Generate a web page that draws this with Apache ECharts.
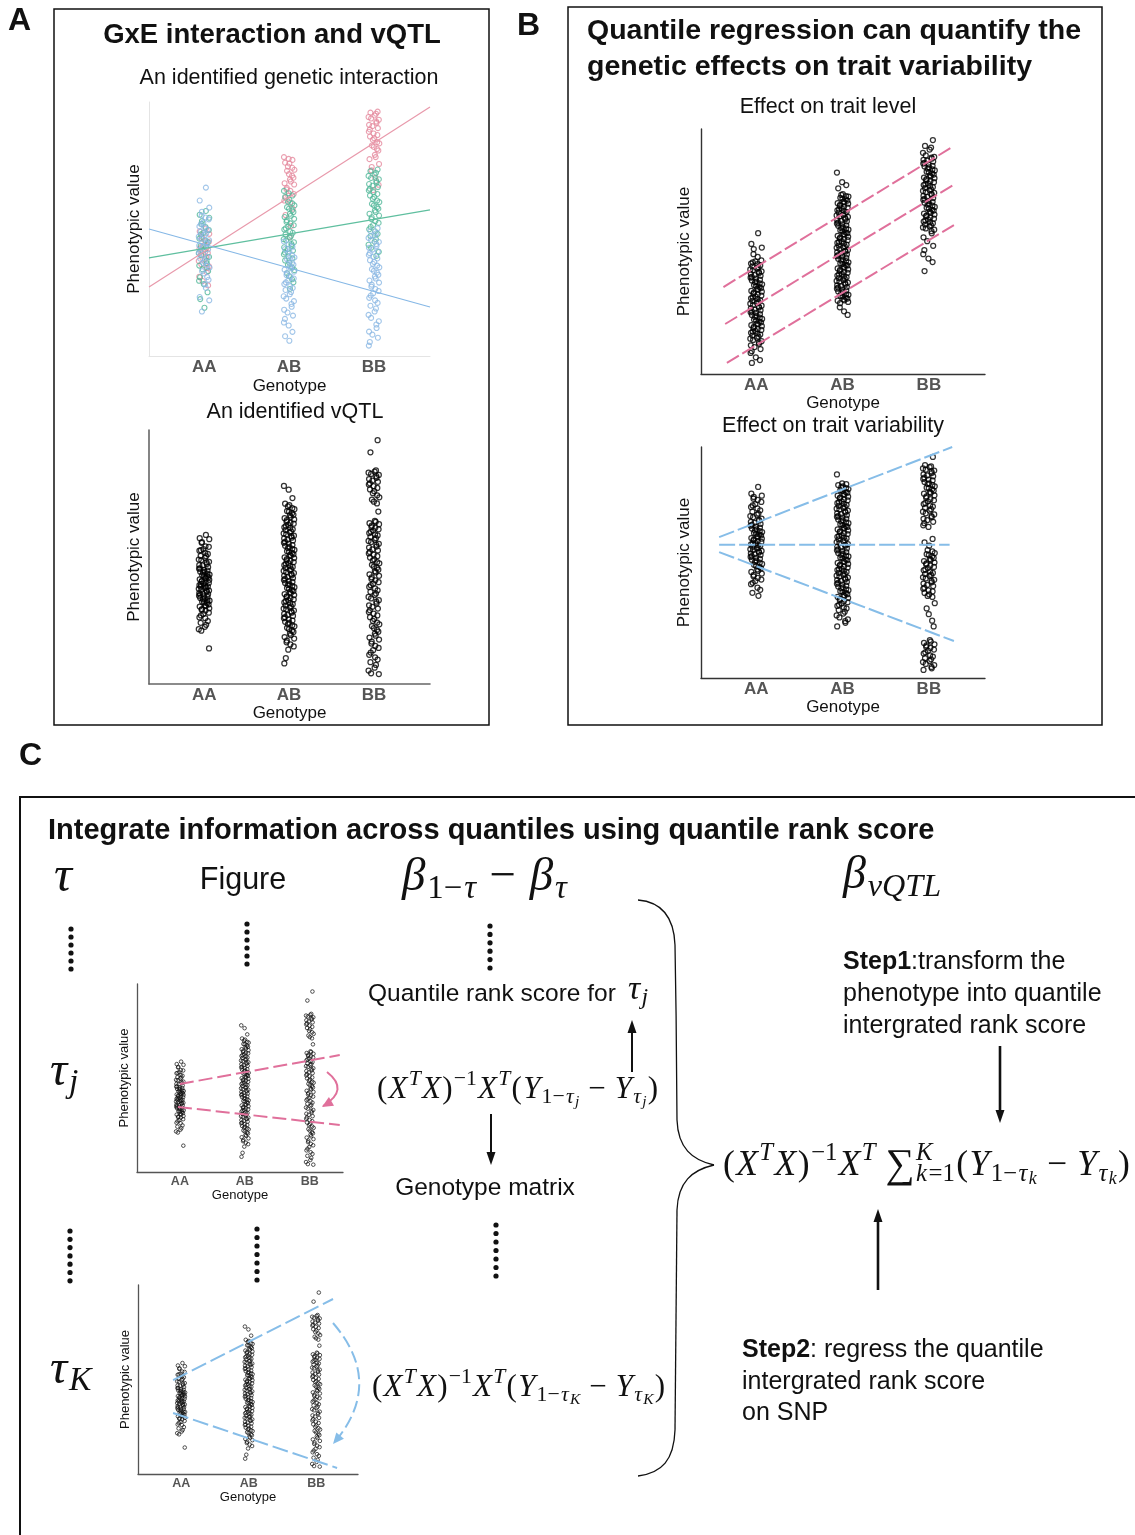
<!DOCTYPE html>
<html>
<head>
<meta charset="utf-8">
<script src="https://cdn.jsdelivr.net/npm/echarts@6/dist/echarts.min.js"></script>
<style>
html, body { margin: 0; padding: 0; background: #fff; }
#main { width: 1135px; height: 1535px; }
</style>
</head>
<body>
<div id="main"></div>
<script>
// genotype categories on every x axis
var genotypes = ["AA", "AB", "BB"];

// horizontal jitter, as a fraction of the column half width
var jitter = [0.31, -0.72, 0.88, -0.15, 0.54, -0.93, 0.12, -0.46, 0.97, -0.28, 0.66, -0.81, 0.05, 0.43, -0.59, 0.79, -0.07, -0.98, 0.24,
    -0.37, 0.71, -0.64, 0.92, -0.21, 0.47, -0.86, 0.16, 0.61, -0.52, 0.84, -0.02, -0.75, 0.36, -0.41, 0.58, -0.89, 0.20];

// A top: GxE interaction, three environments (pink / green / blue), y on a 0-100 scale
var gxePinkAA = [50.2, 49.1, 48.1, 46.9, 46.3, 45.2, 44.9, 43.5, 42.8, 42.2, 41.0, 40.6, 39.8, 38.7, 38.1, 37.4, 36.1, 35.3, 34.6, 33.0, 31.2, 29.5, 27.8];
var gxeGreenAA = [57.1, 55.6, 54.4, 53.1, 52.0, 50.8, 49.6, 48.5, 47.9, 46.2, 45.6, 44.8, 43.3, 42.7, 41.9, 40.5, 39.6, 39.0, 37.4, 36.5, 35.6, 34.1,
    33.4, 31.0, 29.6, 28.3, 25.1, 22.4, 19.0];
var gxeBlueAA = [66.3, 61.2, 58.4, 56.8, 55.3, 54.5, 53.8, 52.6, 51.9, 51.0, 50.4, 49.7, 48.9, 48.3, 47.6, 47.0, 46.2, 45.6, 44.9, 44.2, 43.5,
    42.9, 42.0, 41.4, 40.6, 39.9, 39.0, 38.3, 37.3, 36.6, 35.5, 34.8, 33.4, 32.5, 31.1, 30.0, 28.2, 26.8, 23.2, 21.9, 17.5];
var gxePinkAB = [78.3, 77.6, 77.2, 76.1, 75.8, 74.6, 74.1, 73.3, 72.9, 71.6, 71.0, 70.2, 69.5, 68.7, 68.0, 67.5, 66.2, 65.6, 65.0, 63.8, 63.1,
    62.5, 61.2, 60.4, 58.0, 55.5, 51.2, 46.8];
var gxeGreenAB = [65.0, 64.1, 63.2, 62.6, 61.5, 60.8, 60.1, 59.3, 58.6, 58.0, 57.3, 56.7, 56.0, 55.2, 54.7, 54.0, 53.4, 52.8, 52.2, 51.5, 51.0,
    50.3, 49.8, 49.0, 48.5, 47.9, 47.3, 46.6, 46.0, 45.5, 44.8, 44.1, 43.5, 42.8, 42.1, 41.5, 40.7, 40.0, 39.2, 38.4, 37.6, 36.7, 35.9, 34.8,
    33.8, 32.6, 31.5, 30.2, 29.0, 26.4];
var gxeBlueAB = [45.1, 44.0, 43.0, 42.1, 41.2, 40.4, 39.6, 38.8, 38.1, 37.5, 36.7, 36.0, 35.3, 34.6, 34.0, 33.2, 32.6, 31.9, 31.2, 30.5, 29.8,
    29.0, 28.3, 27.5, 26.8, 26.0, 25.2, 24.3, 23.5, 22.6, 21.6, 20.5, 19.4, 18.2, 17.1, 15.9, 14.6, 13.2, 12.0, 9.5, 7.8, 6.0];
var gxePinkBB = [96.2, 95.8, 95.4, 94.7, 94.1, 93.5, 93.0, 92.3, 91.8, 91.0, 90.5, 89.7, 89.2, 88.3, 87.6, 87.0, 86.4, 85.7, 85.1, 84.2, 83.7,
    82.9, 82.3, 81.5, 80.9, 79.2, 78.3, 77.5, 75.6, 74.4, 73.1, 70.2, 67.4, 65.3];
var gxeGreenBB = [73.4, 72.8, 72.1, 71.4, 70.9, 70.1, 69.6, 68.9, 68.3, 67.7, 67.0, 66.5, 65.8, 65.2, 64.5, 63.8, 63.2, 62.6, 61.9, 61.2, 60.6,
    59.9, 59.3, 58.6, 58.0, 57.3, 56.7, 56.0, 55.3, 54.6, 53.9, 53.1, 52.4, 51.6, 50.8, 49.9, 49.1, 48.1, 47.2, 46.0, 45.0, 43.8, 42.6, 41.0, 39.4];
var gxeBlueBB = [50.3, 49.2, 48.2, 47.4, 46.5, 45.7, 44.9, 44.1, 43.4, 42.6, 41.9, 41.2, 40.5, 39.8, 39.1, 38.4, 37.7, 37.0, 36.3, 35.6, 34.9,
    34.2, 33.5, 32.8, 32.0, 31.3, 30.5, 29.7, 28.9, 28.1, 27.3, 26.4, 25.6, 24.7, 23.8, 22.9, 21.9, 20.9, 19.8, 18.7, 17.5, 16.2, 15.0, 13.7,
    12.4, 11.0, 9.6, 8.4, 7.2, 5.5, 4.1];
var gxePinkFit = [[0.35, 27.2], [3.66, 98.0]];
var gxeGreenFit = [[0.35, 38.6], [3.66, 57.5]];
var gxeBlueFit = [[0.35, 50.0], [3.66, 19.3]];

// vQTL example (A bottom, reused in the two C panels)
var vqtlAA = [58.7, 57.4, 57.0, 55.9, 55.6, 54.2, 54.0, 53.1, 52.7, 52.5, 51.6, 51.2, 50.4, 50.3, 49.7, 49.0, 48.8, 48.1, 47.9, 47.2, 46.8,
    46.7, 46.0, 45.5, 45.4, 44.9, 44.6, 44.2, 44.1, 43.8, 43.4, 43.1, 42.9, 42.6, 42.3, 42.0, 41.7, 41.6, 41.2, 41.0, 40.6, 40.4, 40.1, 39.8,
    39.5, 39.3, 38.9, 38.7, 38.4, 38.3, 37.9, 37.7, 37.5, 37.0, 36.8, 36.6, 36.5, 35.8, 35.6, 35.4, 35.2, 34.7, 34.5, 34.3, 33.9, 33.6, 33.3,
    33.0, 32.8, 32.4, 32.1, 31.9, 31.3, 31.0, 30.7, 30.5, 29.8, 29.5, 29.2, 28.9, 28.1, 27.6, 27.0, 26.2, 25.9, 24.8, 24.1, 23.3, 22.5, 21.6,
    21.0, 14.0];
var vqtlAB = [78.0, 76.5, 73.2, 71.0, 70.4, 69.9, 69.2, 68.8, 68.1, 67.9, 67.2, 66.6, 66.4, 65.7, 65.3, 64.8, 64.5, 63.9, 63.4, 63.1, 62.6,
    62.2, 61.7, 61.5, 60.9, 60.6, 60.1, 59.7, 59.3, 58.9, 58.4, 58.2, 57.6, 57.3, 56.8, 56.5, 56.0, 55.6, 55.3, 54.7, 54.4, 54.0, 53.5, 53.2,
    52.8, 52.3, 52.0, 51.6, 51.1, 50.8, 50.4, 49.9, 49.6, 49.2, 48.7, 48.5, 48.0, 47.6, 47.3, 46.8, 46.4, 46.1, 45.7, 45.2, 44.9, 44.5, 44.0,
    43.7, 43.3, 42.8, 42.6, 42.1, 41.7, 41.4, 40.9, 40.5, 40.2, 39.8, 39.3, 39.0, 38.6, 38.1, 37.8, 37.4, 37.0, 36.6, 36.2, 35.7, 35.4, 35.0,
    34.5, 34.2, 33.8, 33.3, 33.0, 32.6, 32.1, 31.8, 31.4, 30.9, 30.6, 30.2, 29.7, 29.4, 28.9, 28.5, 28.1, 27.6, 27.2, 26.8, 26.3, 25.9, 25.4,
    25.0, 24.5, 24.1, 23.6, 23.1, 22.7, 22.1, 21.6, 21.0, 20.5, 19.8, 19.2, 18.5, 17.9, 17.1, 16.4, 15.6, 14.8, 13.5, 10.2, 8.1];
var vqtlBB = [96.0, 91.2, 84.1, 83.6, 83.2, 82.7, 82.3, 81.8, 81.2, 80.7, 80.1, 79.6, 79.0, 78.5, 77.9, 77.2, 76.6, 75.9, 75.1, 74.3, 73.5,
    72.6, 71.8, 71.1, 67.9, 64.2, 63.8, 63.3, 62.9, 62.4, 61.8, 61.5, 60.9, 60.4, 60.0, 59.4, 58.9, 58.5, 57.9, 57.4, 56.8, 56.3, 55.9, 55.2,
    54.8, 54.1, 53.7, 53.0, 52.6, 52.0, 51.4, 50.9, 50.3, 49.8, 49.1, 48.6, 48.0, 47.5, 46.9, 46.2, 45.7, 45.0, 44.4, 43.9, 43.2, 42.6, 42.0,
    41.3, 40.8, 40.1, 39.5, 38.9, 38.2, 37.6, 36.9, 36.3, 35.6, 35.0, 34.3, 33.7, 33.0, 32.4, 31.7, 31.0, 30.4, 29.7, 29.0, 28.3, 27.7, 27.0,
    26.3, 25.6, 24.9, 24.2, 23.5, 22.8, 22.0, 21.3, 20.6, 19.8, 19.0, 18.3, 17.5, 16.7, 15.9, 15.0, 14.2, 13.3, 12.4, 11.5, 10.5, 9.6, 8.6,
    7.5, 6.4, 5.3, 4.2, 3.9];

// B top: effect on trait level
var levelAA = [57.5, 53.1, 51.6, 51.0, 48.9, 47.8, 46.4, 46.0, 45.6, 45.1, 44.8, 44.3, 43.9, 43.6, 43.1, 42.7, 42.4, 41.9, 41.6, 41.2, 40.8,
    40.4, 40.1, 39.6, 39.3, 38.9, 38.5, 38.2, 37.7, 37.4, 37.0, 36.6, 36.3, 35.8, 35.5, 35.1, 34.7, 34.4, 33.9, 33.6, 33.2, 32.8, 32.5, 32.0,
    31.7, 31.3, 30.9, 30.6, 30.1, 29.8, 29.4, 29.0, 28.7, 28.2, 27.9, 27.5, 27.1, 26.8, 26.3, 26.0, 25.6, 25.2, 24.9, 24.4, 24.1, 23.7, 23.3,
    23.0, 22.5, 22.2, 21.8, 21.4, 21.1, 20.6, 20.3, 19.9, 19.5, 19.2, 18.7, 18.4, 18.0, 17.6, 17.3, 16.8, 16.5, 16.1, 15.7, 15.3, 14.8, 14.4,
    13.9, 13.4, 12.9, 12.3, 11.7, 11.0, 10.2, 9.3, 8.6, 6.8, 5.7, 4.5];
var levelAB = [82.2, 78.3, 77.1, 75.8, 73.4, 73.1, 72.6, 72.4, 71.9, 71.5, 71.3, 70.8, 70.4, 70.1, 69.7, 69.5, 69.0, 68.6, 68.3, 67.9, 67.7,
    67.2, 66.8, 66.5, 66.1, 65.9, 65.4, 65.0, 64.7, 64.3, 64.1, 63.6, 63.2, 62.9, 62.5, 62.3, 61.8, 61.4, 61.1, 60.7, 60.5, 60.0, 59.6, 59.3,
    58.9, 58.7, 58.2, 57.8, 57.5, 57.1, 56.9, 56.4, 56.0, 55.7, 55.3, 55.1, 54.6, 54.2, 53.9, 53.5, 53.3, 52.8, 52.4, 52.1, 51.7, 51.5, 51.0,
    50.6, 50.3, 49.9, 49.7, 49.2, 48.8, 48.5, 48.1, 47.9, 47.4, 47.0, 46.7, 46.3, 46.1, 45.6, 45.2, 44.9, 44.5, 44.3, 43.8, 43.4, 43.1, 42.7,
    42.5, 42.0, 41.6, 41.3, 40.9, 40.7, 40.2, 39.8, 39.5, 39.1, 38.9, 38.4, 38.0, 37.7, 37.3, 37.1, 36.6, 36.2, 35.9, 35.5, 35.3, 34.8, 34.4,
    34.1, 33.7, 33.5, 33.0, 32.6, 32.3, 31.9, 31.7, 31.2, 30.8, 30.5, 30.1, 29.9, 29.4, 28.9, 27.2, 25.6, 24.1];
var levelBB = [95.5, 93.1, 92.4, 91.6, 90.3, 89.2, 88.6, 88.3, 87.9, 87.4, 87.1, 86.7, 86.2, 85.9, 85.5, 85.0, 84.7, 84.3, 83.8, 83.5, 83.1,
    82.6, 82.3, 81.9, 81.4, 81.1, 80.7, 80.2, 79.9, 79.5, 79.0, 78.7, 78.3, 77.8, 77.5, 77.1, 76.6, 76.3, 75.9, 75.4, 75.1, 74.7, 74.2, 73.9,
    73.5, 73.0, 72.7, 72.3, 71.8, 71.5, 71.1, 70.6, 70.3, 69.9, 69.4, 69.1, 68.7, 68.2, 67.9, 67.5, 67.0, 66.7, 66.3, 65.8, 65.5, 65.1, 64.6,
    64.3, 63.9, 63.4, 63.1, 62.7, 62.2, 61.9, 61.5, 61.0, 60.7, 60.3, 59.8, 59.4, 58.9, 58.3, 57.4, 55.8, 54.2, 52.3, 50.6, 48.9, 47.1, 45.7,
    42.0];
var levelQ90 = [[0.62, 35.5], [3.25, 92.2]];
var levelQ50 = [[0.64, 20.4], [3.28, 77.1]];
var levelQ10 = [[0.66, 4.5], [3.29, 60.8]];

// B bottom: effect on trait variability
var varAA = [82.7, 79.8, 78.9, 78.4, 77.6, 77.1, 76.2, 75.3, 74.7, 74.0, 73.4, 72.6, 72.0, 71.2, 70.7, 70.1, 69.6, 69.0, 68.5, 68.1, 67.6,
    67.2, 66.7, 66.3, 65.9, 65.5, 65.1, 64.7, 64.3, 63.9, 63.6, 63.2, 62.8, 62.4, 62.1, 61.7, 61.3, 61.0, 60.6, 60.3, 59.9, 59.6, 59.2, 58.9,
    58.5, 58.2, 57.8, 57.5, 57.1, 56.8, 56.4, 56.1, 55.7, 55.4, 55.0, 54.7, 54.3, 53.9, 53.6, 53.2, 52.8, 52.4, 52.0, 51.6, 51.2, 50.8, 50.3,
    49.9, 49.4, 49.0, 48.5, 48.0, 47.5, 47.0, 46.4, 45.9, 45.2, 44.6, 44.0, 43.3, 42.6, 42.0, 41.2, 40.6, 39.1, 38.2, 36.9, 35.6];
var varAB = [88.1, 84.3, 83.9, 83.5, 83.0, 82.6, 82.2, 81.8, 81.3, 80.9, 80.5, 80.2, 79.7, 79.3, 78.9, 78.5, 78.1, 77.8, 77.3, 76.9, 76.5,
    76.1, 75.7, 75.4, 74.9, 74.5, 74.1, 73.7, 73.3, 72.9, 72.5, 72.1, 71.7, 71.3, 70.9, 70.5, 70.1, 69.8, 69.4, 69.0, 68.6, 68.2, 67.8, 67.4,
    67.0, 66.6, 66.2, 65.8, 65.4, 65.1, 64.7, 64.3, 63.9, 63.5, 63.1, 62.7, 62.3, 61.9, 61.5, 61.1, 60.8, 60.4, 60.0, 59.6, 59.2, 58.8, 58.4,
    58.0, 57.6, 57.2, 56.9, 56.5, 56.1, 55.7, 55.3, 54.9, 54.5, 54.1, 53.7, 53.3, 53.0, 52.6, 52.2, 51.8, 51.4, 51.0, 50.6, 50.2, 49.8, 49.4,
    49.0, 48.6, 48.2, 47.8, 47.4, 47.1, 46.7, 46.3, 45.9, 45.5, 45.1, 44.7, 44.3, 43.9, 43.5, 43.1, 42.7, 42.4, 42.0, 41.6, 41.2, 40.8, 40.4,
    40.0, 39.6, 39.2, 38.8, 38.4, 38.0, 37.6, 37.2, 36.8, 36.3, 35.9, 35.5, 35.1, 34.6, 34.2, 33.7, 33.3, 32.8, 32.3, 31.7, 31.2, 30.6, 30.1,
    29.4, 28.7, 27.9, 27.1, 26.2, 25.4, 24.6, 23.9, 22.3];
var varBB = [95.7, 92.1, 91.6, 91.3, 90.7, 90.2, 89.8, 89.4, 88.7, 88.1, 87.7, 87.3, 86.7, 86.2, 85.9, 85.5, 84.8, 84.3, 84.0, 83.6, 83.0,
    82.4, 82.1, 81.7, 81.1, 80.5, 80.1, 79.8, 79.1, 78.6, 78.0, 77.4, 76.9, 76.5, 75.8, 75.3, 74.7, 74.2, 73.6, 73.1, 72.5, 72.0, 71.3, 70.8,
    70.1, 69.6, 68.9, 68.3, 67.6, 67.0, 66.1, 65.4, 60.2, 58.7, 57.3, 55.4, 54.8, 54.1, 53.6, 53.2, 52.6, 52.0, 51.5, 51.1, 50.6, 50.0, 49.6,
    49.2, 48.7, 48.1, 47.6, 47.0, 46.6, 46.1, 45.5, 45.0, 44.6, 44.2, 43.6, 43.1, 42.5, 42.0, 41.4, 40.9, 40.3, 39.8, 39.1, 38.6, 37.9, 37.5,
    36.8, 36.2, 35.5, 35.1, 32.4, 30.1, 27.6, 24.8, 22.3, 16.4, 15.8, 15.2, 14.6, 14.1, 13.5, 13.0, 12.3, 11.8, 11.1, 10.6, 9.8, 9.3, 8.6,
    8.1, 7.4, 6.9, 6.1, 5.6, 4.8, 4.2, 3.5];
var varQ90 = [[0.57, 61.0], [3.27, 100]];
var varQ50 = [[0.57, 57.7], [3.24, 57.7]];
var varQ10 = [[0.57, 54.5], [3.29, 16.0]];

// C: quantile lines drawn on the vQTL example
var tauJUpper = [[1.00, 46.8], [3.46, 62.2]];
var tauJLower = [[0.97, 34.6], [3.46, 25.0]];
var tauKUpper = [[0.88, 49.7], [3.25, 92.6]];
var tauKLower = [[0.88, 32.3], [3.31, 3.2]];

var PINK = "#e0709b", BLUE = "#86bde8";
var SANS = "Liberation Sans", SERIF = "Liberation Serif";

var myChart = echarts.init(document.getElementById("main"));

// 每个小图的坐标系
var grids = [
    { left: 149, top: 102, width: 281, height: 254 },
    { left: 149, top: 430, width: 281, height: 254 },
    { left: 701, top: 129, width: 284, height: 245 },
    { left: 701, top: 447, width: 284, height: 231 },
    { left: 137, top: 984, width: 206, height: 188 },
    { left: 138, top: 1285, width: 220, height: 189 }
];
var xRange = [[0.35, 3.66], [0.35, 3.66], [0.36, 3.65], [0.36, 3.65], [0.34, 3.51], [0.36, 3.62]];
var axisStyle = [
    { color: "#e4e4e4", width: 1, lab: 17, gap: 22, name: 17, ygap: 6, jw: 0.065 },
    { color: "#666", width: 1.6, lab: 17, gap: 21, name: 17, ygap: 6, jw: 0.065 },
    { color: "#333", width: 1.4, lab: 17, gap: 21, name: 17, ygap: 8, jw: 0.07 },
    { color: "#333", width: 1.4, lab: 17, gap: 20, name: 17, ygap: 8, jw: 0.07 },
    { color: "#555", width: 1.3, lab: 12.5, gap: 16, name: 13, ygap: 6, jw: 0.06 },
    { color: "#555", width: 1.3, lab: 12.5, gap: 16, name: 13, ygap: 6, jw: 0.06 }
];

var xAxes = [], yAxes = [];
grids.forEach(function (g, i) {
    var s = axisStyle[i];
    xAxes.push({
        gridIndex: i, type: "value", min: xRange[i][0], max: xRange[i][1],
        axisLine: { show: true, onZero: false, lineStyle: { color: s.color, width: s.width } },
        axisTick: { show: false },
        splitLine: { show: false },
        axisLabel: {
            customValues: [1, 2, 3],
            formatter: function (v) { return genotypes[Math.round(v) - 1]; },
            fontWeight: "bold", color: "#555", fontSize: s.lab, margin: 3, fontFamily: SANS
        },
        name: "Genotype", nameLocation: "middle", nameGap: s.gap,
        nameTextStyle: { fontSize: s.name, color: "#111", fontFamily: SANS }
    });
    yAxes.push({
        gridIndex: i, type: "value", min: 0, max: 100,
        axisLine: { show: true, onZero: false, lineStyle: { color: s.color, width: s.width } },
        axisTick: { show: false },
        axisLabel: { show: false },
        splitLine: { show: false },
        name: "Phenotypic value", nameLocation: "middle", nameRotate: 90, nameGap: s.ygap,
        nameTextStyle: { fontSize: s.name, color: "#111", fontFamily: SANS }
    });
});

function cloud(gi, groups, color, size, bw) {
    var pts = [], jw = axisStyle[gi].jw;
    groups.forEach(function (arr, g) {
        arr.forEach(function (v, i) {
            pts.push([g + 1 + jw * jitter[(i * 11 + g * 5) % jitter.length], v]);
        });
    });
    return {
        type: "scatter", xAxisIndex: gi, yAxisIndex: gi, data: pts, symbol: "circle", symbolSize: size,
        itemStyle: { color: "rgba(255,255,255,0)", borderColor: color, borderWidth: bw }, silent: true, z: 2
    };
}
function fit(gi, pts, color, width, dash) {
    return {
        type: "line", xAxisIndex: gi, yAxisIndex: gi, data: pts, symbol: "none",
        lineStyle: { color: color, width: width, type: dash || "solid" }, silent: true, z: 5
    };
}

var series = [
    cloud(0, [gxePinkAA, gxePinkAB, gxePinkBB], "#e58a9e", 5, 1.1),
    cloud(0, [gxeGreenAA, gxeGreenAB, gxeGreenBB], "#52b89a", 5, 1.1),
    cloud(0, [gxeBlueAA, gxeBlueAB, gxeBlueBB], "#8bb8e4", 5, 1.1),
    fit(0, gxePinkFit, "#e899ab", 1.2),
    fit(0, gxeGreenFit, "#5fbf9f", 1.2),
    fit(0, gxeBlueFit, "#86b8e6", 1.2),
    cloud(1, [vqtlAA, vqtlAB, vqtlBB], "#000", 5, 1.25),
    cloud(2, [levelAA, levelAB, levelBB], "#000", 5, 1.25),
    fit(2, levelQ90, PINK, 2, [14, 4]),
    fit(2, levelQ50, PINK, 2, [14, 4]),
    fit(2, levelQ10, PINK, 2, [14, 4]),
    cloud(3, [varAA, varAB, varBB], "#000", 5, 1.25),
    fit(3, varQ90, BLUE, 2, [16, 4]),
    fit(3, varQ50, BLUE, 2, [16, 4]),
    fit(3, varQ10, BLUE, 2, [16, 4]),
    cloud(4, [vqtlAA, vqtlAB, vqtlBB], "#111", 3.6, 0.9),
    fit(4, tauJUpper, PINK, 2, [14, 5]),
    fit(4, tauJLower, PINK, 2, [14, 5]),
    cloud(5, [vqtlAA, vqtlAB, vqtlBB], "#111", 3.6, 0.9),
    fit(5, tauKUpper, BLUE, 2, [16, 5]),
    fit(5, tauKLower, BLUE, 2, [16, 5])
];

// ---------- graphic helpers ----------
var mctx = document.createElement("canvas").getContext("2d");
var KIND = {
    n: { s: 1, dy: 0, it: false }, i: { s: 1, dy: 0, it: true },
    p: { s: 0.7, dy: -0.36, it: false }, pi: { s: 0.7, dy: -0.36, it: true },
    b: { s: 0.7, dy: 0.24, it: false }, bi: { s: 0.7, dy: 0.24, it: true },
    bb: { s: 0.5, dy: 0.38, it: true },
    big: { s: 1.15, dy: 0.02, it: false }
};
function mathRow(x, y, S, toks) {
    var els = [], cx = x, gap = S * 0.04;
    toks.forEach(function (t) {
        var k = KIND[t[1]];
        var fs = Math.round(S * k.s * 10) / 10;
        var font = (k.it ? "italic " : "") + fs + "px \"" + SERIF + "\"";
        mctx.font = font;
        var w = mctx.measureText(t[0]).width;
        els.push({
            type: "text", x: cx, y: y + k.dy * S, silent: true,
            style: { text: t[0], font: font, fill: "#111", textAlign: "left", textVerticalAlign: "middle" }
        });
        if (!t[2]) cx += w + gap;
    });
    return els;
}
function txt(x, y, s, size, opt) {
    opt = opt || {};
    return {
        type: "text", x: x, y: y, silent: true,
        style: {
            text: s, fontSize: size, fontFamily: SANS, fontWeight: opt.bold ? "bold" : "normal",
            fill: opt.color || "#111", textAlign: opt.align || "left", textVerticalAlign: "middle",
            rich: opt.rich
        }
    };
}
function arrowHead(tx, ty, dx, dy, len, hw, color) {
    var d = Math.sqrt(dx * dx + dy * dy), ux = dx / d, uy = dy / d;
    var bx = tx - ux * len, by = ty - uy * len;
    return {
        type: "polygon", silent: true,
        shape: { points: [[tx, ty], [bx - uy * hw, by + ux * hw], [bx + uy * hw, by - ux * hw]] },
        style: { fill: color }
    };
}
function arrow(x1, y1, x2, y2, w, color) {
    color = color || "#111";
    var dx = x2 - x1, dy = y2 - y1, d = Math.sqrt(dx * dx + dy * dy);
    return [
        { type: "line", silent: true, shape: { x1: x1, y1: y1, x2: x2 - dx / d * 8, y2: y2 - dy / d * 8 }, style: { stroke: color, lineWidth: w } },
        arrowHead(x2, y2, dx, dy, 13, 4.5, color)
    ];
}
function curved(x1, y1, cx, cy, x2, y2, color, dash) {
    return [
        { type: "bezierCurve", silent: true, shape: { x1: x1, y1: y1, cpx1: cx, cpy1: cy, x2: x2, y2: y2 },
          style: { stroke: color, lineWidth: 2, fill: null, lineDash: dash || null } },
        arrowHead(x2 - 1, y2 + 1, x2 - cx, y2 - cy, 11, 5, color)
    ];
}
function cubic(p) {
    return { type: "bezierCurve", silent: true,
        shape: { x1: p[0], y1: p[1], cpx1: p[2], cpy1: p[3], cpx2: p[4], cpy2: p[5], x2: p[6], y2: p[7] },
        style: { stroke: "#111", lineWidth: 1.3, fill: null } };
}

var g = [];
// panel frames
g.push({ type: "rect", silent: true, shape: { x: 54, y: 9, width: 435, height: 716 }, style: { fill: null, stroke: "#111", lineWidth: 1.5 } });
g.push({ type: "rect", silent: true, shape: { x: 568, y: 7, width: 534, height: 718 }, style: { fill: null, stroke: "#111", lineWidth: 1.5 } });
g.push({ type: "polyline", silent: true, shape: { points: [[20, 1535], [20, 797], [1135, 797]] }, style: { fill: null, stroke: "#111", lineWidth: 2 } });

// panel letters and titles
g.push(txt(8, 21, "A", 32, { bold: true }));
g.push(txt(517, 26, "B", 32, { bold: true }));
g.push(txt(19, 756, "C", 32, { bold: true }));
g.push(txt(272, 35, "GxE interaction and vQTL", 27.5, { bold: true, align: "center" }));
g.push(txt(289, 78, "An identified genetic interaction", 21.5, { align: "center" }));
g.push(txt(295, 412, "An identified vQTL", 21.5, { align: "center" }));
g.push(txt(587, 31, "Quantile regression can quantify the", 28.5, { bold: true }));
g.push(txt(587, 67, "genetic effects on trait variability", 28.5, { bold: true }));
g.push(txt(828, 107, "Effect on trait level", 21.5, { align: "center" }));
g.push(txt(833, 426, "Effect on trait variability", 21.5, { align: "center" }));
g.push(txt(48, 831, "Integrate information across quantiles using quantile rank score", 29, { bold: true }));

// C header row
g = g.concat(mathRow(54, 878, 50, [["τ", "i"]]));
g.push(txt(243, 881, "Figure", 30.5, { align: "center" }));
g = g.concat(mathRow(402, 878, 47, [["β", "i"], ["1−", "b"], ["τ", "bi"], [" − ", "n"], ["β", "i"], ["τ", "bi"]]));
g = g.concat(mathRow(843, 876, 46, [["β", "i"], ["vQTL", "bi"]]));

// vertical ellipses
var dotCols = [[71, 929, 6, 8], [247, 924, 6, 8], [490, 926, 6, 8.4], [70, 1231, 7, 8.3], [257, 1229, 7, 8.5], [496, 1225, 7, 8.5]];
dotCols.forEach(function (c) {
    for (var k = 0; k < c[2]; k++) {
        g.push({ type: "circle", silent: true, shape: { cx: c[0], cy: c[1] + k * c[3], r: 2.6 }, style: { fill: "#111" } });
    }
});

// row labels
g = g.concat(mathRow(50, 1072, 48, [["τ", "i"], ["j", "bi"]]));
g = g.concat(mathRow(50, 1370, 48, [["τ", "i"], ["K", "bi"]]));

// middle column
g.push(txt(368, 994, "Quantile rank score for", 24.5));
g = g.concat(mathRow(628, 990, 34, [["τ", "i"], ["j", "bi"]]));
g = g.concat(arrow(632, 1072, 632, 1020, 2));
g = g.concat(mathRow(377, 1090, 31, [["(", "n"], ["X", "i"], ["T", "pi"], ["X", "i"], [")", "n"], ["−1", "p"], ["X", "i"], ["T", "pi"],
    ["(", "n"], ["Y", "i"], ["1−", "b"], ["τ", "bi"], ["j", "bb"], [" − ", "n"], ["Y", "i"], ["τ", "bi"], ["j", "bb"], [")", "n"]]));
g = g.concat(arrow(491, 1114, 491, 1165, 2));
g.push(txt(485, 1188, "Genotype matrix", 24.5, { align: "center" }));
g = g.concat(mathRow(372, 1388, 31, [["(", "n"], ["X", "i"], ["T", "pi"], ["X", "i"], [")", "n"], ["−1", "p"], ["X", "i"], ["T", "pi"],
    ["(", "n"], ["Y", "i"], ["1−", "b"], ["τ", "bi"], ["K", "bb"], [" − ", "n"], ["Y", "i"], ["τ", "bi"], ["K", "bb"], [")", "n"]]));

// brace
var braceParts = [
    [638, 900, 662, 902, 674, 918, 675, 945],
    [675, 945, 676, 1000, 677, 1080, 677, 1120],
    [677, 1120, 678, 1148, 692, 1160, 714, 1165],
    [714, 1165, 692, 1170, 678, 1182, 677, 1210],
    [677, 1210, 676, 1300, 675, 1380, 675, 1430],
    [675, 1430, 674, 1460, 662, 1473, 638, 1476]
];
braceParts.forEach(function (p) { g.push(cubic(p)); });

// right column
g.push(txt(843, 962, "{b|Step1}:transform the", 25, { rich: { b: { fontWeight: "bold", fontSize: 25, fontFamily: SANS } } }));
g.push(txt(843, 994, "phenotype into quantile", 25));
g.push(txt(843, 1026, "intergrated rank score", 25));
g = g.concat(arrow(1000, 1046, 1000, 1123, 2.6));
g = g.concat(mathRow(723, 1166, 35.5, [["(", "n"], ["X", "i"], ["T", "pi"], ["X", "i"], [")", "n"], ["−1", "p"], ["X", "i"], ["T", "pi"], ["\u2009", "n"],
    ["∑", "big"], ["K", "pi", true], ["k", "bi"], ["=1", "b"],
    ["(", "n"], ["Y", "i"], ["1−", "b"], ["τ", "bi"], ["k", "bb"], [" − ", "n"], ["Y", "i"], ["τ", "bi"], ["k", "bb"], [")", "n"]]));
g = g.concat(arrow(878, 1290, 878, 1209, 2.6));
g.push(txt(742, 1350, "{b|Step2}: regress the quantile", 25, { rich: { b: { fontWeight: "bold", fontSize: 25, fontFamily: SANS } } }));
g.push(txt(742, 1382, "intergrated rank score", 25));
g.push(txt(742, 1413, "on SNP", 25));

// rotation arrows inside the C plots
g = g.concat(curved(327, 1072, 350, 1090, 323, 1106, PINK));
g = g.concat(curved(333, 1323, 385, 1383, 334, 1443, BLUE, [12, 5]));

myChart.setOption({
    animation: false,
    backgroundColor: "#fff",
    textStyle: { fontFamily: SANS },
    grid: grids,
    xAxis: xAxes,
    yAxis: yAxes,
    series: series,
    graphic: g
});
</script>
</body>
</html>
